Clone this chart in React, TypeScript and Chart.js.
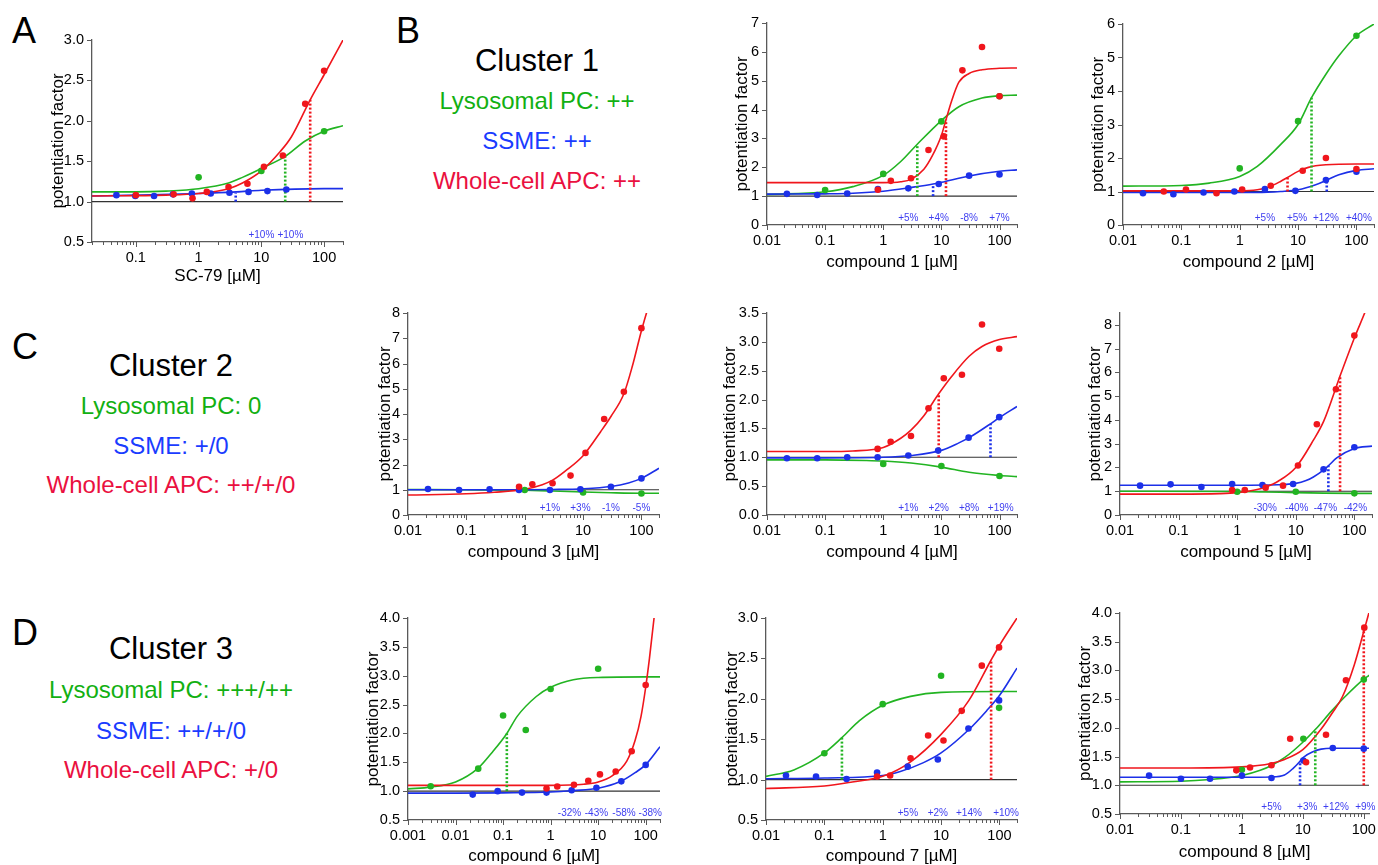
import React, { useEffect, useRef } from 'react';
import { Chart, registerables } from 'chart.js';
Chart.register(...registerables);

type Pt = [number, number];

const GREEN = '#22b422';
const BLUE = '#1c30e8';
const RED = '#f0161c';
const PCT = '#3d3df0';
const AXIS = '#5a5a5a';
const LABEL = '#000000';
const FONT = "'Liberation Sans', Arial, Helvetica, sans-serif";

// ---------- Panel A : SC-79 ----------
const A_gPts: Pt[] = [[1, 1.30], [10, 1.38], [100, 1.87]];
const A_bPts: Pt[] = [[0.049, 1.08], [0.098, 1.07], [0.195, 1.07], [0.39, 1.09], [0.78, 1.10], [1.56, 1.10], [3.1, 1.11], [6.25, 1.12], [12.5, 1.13], [25, 1.15]];
const A_rPts: Pt[] = [[0.1, 1.08], [0.4, 1.09], [0.8, 1.04], [1.35, 1.12], [3, 1.18], [6, 1.22], [11, 1.43], [22, 1.57], [50, 2.21], [100, 2.62]];
const A_gFit: Pt[] = [[0.02, 1.12], [0.1, 1.12], [0.3, 1.13], [1, 1.16], [3, 1.23], [5, 1.30], [10, 1.41], [24, 1.56], [50, 1.75], [100, 1.87], [200, 1.94]];
const A_bFit: Pt[] = [[0.02, 1.07], [0.1, 1.08], [1, 1.10], [4, 1.12], [10, 1.14], [100, 1.16], [200, 1.16]];
const A_rFit: Pt[] = [[0.02, 1.07], [0.3, 1.08], [1, 1.10], [3, 1.16], [5, 1.23], [10, 1.38], [20, 1.62], [30, 1.80], [60, 2.26], [100, 2.57], [200, 3.0]];
const A_ec50: (Pt | null)[] = [[24, 1.56], [3.9, 1.11], [60, 2.26]];
const A_pctX = [10, 29];
const A_pctText = ['+10%', '+10%'];

// ---------- Panel B1 : compound 1 ----------
const B1_gPts: Pt[] = [[0.1, 1.21], [1, 1.77], [10, 3.59], [100, 4.46]];
const B1_bPts: Pt[] = [[0.022, 1.08], [0.073, 1.04], [0.24, 1.09], [0.81, 1.25], [2.7, 1.27], [9, 1.42], [30, 1.71], [100, 1.75]];
const B1_rPts: Pt[] = [[0.81, 1.22], [1.35, 1.53], [3, 1.62], [6, 2.6], [11, 3.07], [23, 5.36], [50, 6.17], [100, 4.46]];
const B1_gFit: Pt[] = [[0.01, 1.06], [0.1, 1.15], [0.3, 1.33], [1, 1.72], [2, 2.2], [3.85, 2.8], [10, 3.62], [20, 4.1], [50, 4.4], [100, 4.48], [200, 4.5]];
const B1_bFit: Pt[] = [[0.01, 1.07], [0.1, 1.08], [0.3, 1.1], [1, 1.17], [3, 1.3], [7.2, 1.42], [10, 1.48], [30, 1.7], [100, 1.86], [200, 1.91]];
const B1_rFit: Pt[] = [[0.01, 1.47], [1, 1.47], [2, 1.5], [3, 1.58], [5, 1.93], [7, 2.4], [10, 3.1], [12, 3.65], [15, 4.3], [20, 4.95], [30, 5.25], [50, 5.38], [100, 5.43], [200, 5.44]];
const B1_ec50: (Pt | null)[] = [[3.85, 2.8], [7.2, 1.4], [12, 3.65]];
const B1_pctX = [2.7, 9, 30, 100];
const B1_pctText = ['+5%', '+4%', '-8%', '+7%'];

// ---------- Panel B2 : compound 2 ----------
const B2_gPts: Pt[] = [[1, 1.69], [10, 3.10], [100, 5.65]];
const B2_bPts: Pt[] = [[0.022, 0.95], [0.073, 0.92], [0.24, 0.97], [0.81, 1.0], [2.7, 1.07], [9, 1.02], [30, 1.34], [100, 1.59]];
const B2_rPts: Pt[] = [[0.05, 1.0], [0.12, 1.06], [0.4, 0.95], [1.1, 1.06], [3.4, 1.17], [12, 1.62], [30, 2.0], [100, 1.67]];
const B2_gFit: Pt[] = [[0.01, 1.16], [0.1, 1.18], [0.3, 1.25], [1, 1.45], [2, 1.75], [5, 2.4], [10, 3.0], [17, 3.8], [30, 4.5], [50, 5.05], [100, 5.65], [200, 6.0]];
const B2_bFit: Pt[] = [[0.01, 0.97], [1, 0.97], [3, 0.98], [5, 1.0], [10, 1.05], [20, 1.2], [31, 1.34], [50, 1.5], [100, 1.63], [200, 1.68]];
const B2_rFit: Pt[] = [[0.01, 1.02], [1, 1.02], [2, 1.05], [3, 1.12], [5, 1.3], [6.6, 1.42], [10, 1.6], [15, 1.72], [20, 1.77], [30, 1.8], [100, 1.82], [200, 1.82]];
const B2_ec50: (Pt | null)[] = [[17, 3.8], [31, 1.34], [6.6, 1.42]];
const B2_pctX = [2.7, 9.6, 30, 110];
const B2_pctText = ['+5%', '+5%', '+12%', '+40%'];

// ---------- Panel C3 : compound 3 ----------
const C3_gPts: Pt[] = [[1, 0.99], [10, 0.89], [100, 0.85]];
const C3_bPts: Pt[] = [[0.022, 1.03], [0.075, 0.99], [0.25, 1.02], [0.8, 0.99], [2.7, 0.99], [9, 1.02], [30, 1.12], [100, 1.45]];
const C3_rPts: Pt[] = [[0.8, 1.12], [1.35, 1.22], [3.0, 1.26], [6.1, 1.56], [11, 2.46], [23, 3.8], [50, 4.88], [100, 7.4]];
const C3_gFit: Pt[] = [[0.01, 1.01], [0.1, 1.0], [1, 0.98], [3, 0.95], [10, 0.91], [30, 0.88], [100, 0.86], [200, 0.86]];
const C3_bFit: Pt[] = [[0.01, 1.0], [1, 1.0], [3, 1.01], [10, 1.04], [30, 1.13], [60, 1.27], [100, 1.45], [200, 1.85]];
const C3_rFit: Pt[] = [[0.01, 0.79], [0.1, 0.84], [0.3, 0.9], [1, 1.02], [2, 1.2], [3, 1.38], [5, 1.75], [10, 2.35], [20, 3.3], [30, 3.9], [50, 4.8], [70, 5.9], [100, 7.3], [150, 8.7], [200, 9.7]];
const C3_ec50: (Pt | null)[] = [null, null, null];
const C3_pctX = [2.7, 9, 30, 100];
const C3_pctText = ['+1%', '+3%', '-1%', '-5%'];

// ---------- Panel C4 : compound 4 ----------
const C4_gPts: Pt[] = [[1, 0.885], [10, 0.85], [100, 0.677]];
const C4_bPts: Pt[] = [[0.022, 0.983], [0.073, 0.983], [0.24, 1.0], [0.8, 1.0], [2.7, 1.03], [8.8, 1.116], [29.4, 1.34], [99, 1.695]];
const C4_rPts: Pt[] = [[0.8, 1.145], [1.34, 1.27], [3, 1.37], [6, 1.85], [11, 2.37], [22.6, 2.43], [50, 3.3], [99, 2.88]];
const C4_gFit: Pt[] = [[0.01, 0.955], [0.1, 0.955], [0.5, 0.945], [1, 0.935], [3, 0.9], [10, 0.83], [30, 0.74], [100, 0.685], [200, 0.665]];
const C4_bFit: Pt[] = [[0.01, 0.99], [0.1, 0.99], [1, 1.0], [3, 1.03], [10, 1.12], [20, 1.25], [30, 1.34], [70, 1.58], [100, 1.69], [200, 1.88]];
const C4_rFit: Pt[] = [[0.01, 1.1], [0.1, 1.1], [0.3, 1.11], [1, 1.17], [2, 1.33], [3, 1.47], [5, 1.72], [9, 2.1], [15, 2.4], [30, 2.75], [50, 2.92], [100, 3.04], [200, 3.09]];
const C4_ec50: (Pt | null)[] = [null, [70, 1.58], [9, 2.1]];
const C4_pctX = [2.7, 9, 30, 105];
const C4_pctText = ['+1%', '+2%', '+8%', '+19%'];

// ---------- Panel C5 : compound 5 ----------
const C5_gPts: Pt[] = [[1, 0.98], [10, 0.98], [100, 0.91]];
const C5_bPts: Pt[] = [[0.022, 1.235], [0.073, 1.29], [0.245, 1.18], [0.82, 1.305], [2.7, 1.26], [9, 1.305], [29.8, 1.92], [100, 2.85]];
const C5_rPts: Pt[] = [[0.82, 1.05], [1.35, 1.05], [3.06, 1.15], [6.06, 1.235], [10.9, 2.08], [22.9, 3.82], [48.5, 5.29], [100, 7.55]];
const C5_gFit: Pt[] = [[0.01, 1.0], [1, 0.99], [3, 0.97], [10, 0.94], [30, 0.92], [100, 0.91], [200, 0.91]];
const C5_bFit: Pt[] = [[0.01, 1.25], [1, 1.25], [5, 1.27], [10, 1.33], [15, 1.45], [20, 1.6], [30, 1.9], [36, 2.07], [50, 2.4], [100, 2.8], [200, 2.9]];
const C5_rFit: Pt[] = [[0.01, 0.88], [0.1, 0.88], [0.5, 0.9], [1, 0.94], [2, 1.05], [3, 1.17], [5, 1.42], [10, 2.0], [20, 3.15], [30, 3.95], [56, 5.8], [100, 7.45], [150, 8.5], [200, 9.3]];
const C5_ec50: (Pt | null)[] = [null, [36, 2.07], [57, 5.8]];
const C5_pctX = [3, 10.4, 32, 104];
const C5_pctText = ['-30%', '-40%', '-47%', '-42%'];

// ---------- Panel D6 : compound 6 ----------
const D6_gPts: Pt[] = [[0.003, 1.085], [0.03, 1.39], [0.1, 2.31], [0.3, 2.06], [1, 2.77], [10, 3.12]];
const D6_bPts: Pt[] = [[0.023, 0.94], [0.077, 1.0], [0.25, 0.975], [0.82, 0.975], [2.77, 1.016], [9.2, 1.06], [30.7, 1.17], [100, 1.455]];
const D6_rPts: Pt[] = [[0.82, 1.045], [1.38, 1.08], [3.1, 1.11], [6.2, 1.18], [10.9, 1.29], [23.4, 1.34], [50.7, 1.69], [100, 2.84]];
const D6_gFit: Pt[] = [[0.001, 1.04], [0.003, 1.07], [0.01, 1.16], [0.03, 1.4], [0.06, 1.68], [0.12, 2.0], [0.2, 2.3], [0.5, 2.64], [1, 2.8], [3, 2.93], [10, 2.97], [100, 2.98], [200, 2.98]];
const D6_bFit: Pt[] = [[0.001, 0.965], [0.01, 0.965], [0.1, 0.97], [1, 0.985], [3, 1.01], [10, 1.05], [30, 1.17], [60, 1.32], [100, 1.46], [200, 1.77]];
const D6_rFit: Pt[] = [[0.001, 1.1], [1, 1.1], [5, 1.12], [10, 1.16], [20, 1.27], [40, 1.52], [60, 1.88], [80, 2.3], [100, 2.8], [120, 3.3], [150, 4.0], [200, 5.0]];
const D6_ec50: (Pt | null)[] = [[0.12, 2.0], null, null];
const D6_pctX = [2.5, 9.2, 35, 125];
const D6_pctText = ['-32%', '-43%', '-58%', '-38%'];

// ---------- Panel D7 : compound 7 ----------
const D7_gPts: Pt[] = [[0.1, 1.327], [1, 1.934], [10, 2.285], [98.6, 1.888]];
const D7_bPts: Pt[] = [[0.022, 1.05], [0.072, 1.037], [0.24, 1.008], [0.8, 1.087], [2.68, 1.16], [8.8, 1.248], [29.4, 1.632], [98.6, 1.98]];
const D7_rPts: Pt[] = [[0.8, 1.037], [1.34, 1.05], [3, 1.264], [6, 1.545], [11, 1.483], [22.6, 1.851], [49.9, 2.41], [98.6, 2.636]];
const D7_gFit: Pt[] = [[0.01, 1.04], [0.03, 1.12], [0.1, 1.33], [0.2, 1.52], [0.4, 1.73], [1, 1.92], [3, 2.03], [10, 2.08], [100, 2.09], [200, 2.09]];
const D7_bFit: Pt[] = [[0.01, 1.01], [0.1, 1.02], [1, 1.05], [2, 1.1], [5, 1.21], [10, 1.33], [30, 1.62], [60, 1.85], [100, 2.04], [200, 2.38]];
const D7_rFit: Pt[] = [[0.01, 0.89], [0.1, 0.92], [0.3, 0.97], [1, 1.04], [3, 1.22], [10, 1.56], [30, 1.98], [72, 2.48], [100, 2.66], [200, 3.0]];
const D7_ec50: (Pt | null)[] = [[0.2, 1.53], null, [72, 2.48]];
const D7_pctX = [2.7, 8.8, 30, 130];
const D7_pctText = ['+5%', '+2%', '+14%', '+10%'];

// ---------- Panel D8 : compound 8 ----------
const D8_gPts: Pt[] = [[1, 1.27], [10.2, 1.81], [100, 2.84]];
const D8_bPts: Pt[] = [[0.03, 1.168], [0.1, 1.115], [0.3, 1.115], [1, 1.168], [3.06, 1.127], [10.2, 1.43], [31, 1.65], [100, 1.638]];
const D8_rPts: Pt[] = [[0.81, 1.26], [1.36, 1.31], [3.06, 1.35], [6.2, 1.81], [11.3, 1.40], [24, 1.88], [51, 2.83], [102, 3.745]];
const D8_gFit: Pt[] = [[0.01, 1.06], [0.1, 1.07], [0.3, 1.1], [1, 1.17], [2, 1.26], [3, 1.34], [5, 1.48], [10, 1.75], [16, 1.97], [30, 2.3], [50, 2.55], [100, 2.85], [125, 2.92]];
const D8_bFit: Pt[] = [[0.01, 1.14], [1, 1.14], [3, 1.145], [5, 1.18], [7, 1.3], [9, 1.42], [10, 1.48], [15, 1.59], [20, 1.63], [30, 1.645], [100, 1.645], [125, 1.645]];
const D8_rFit: Pt[] = [[0.01, 1.3], [0.1, 1.3], [1, 1.32], [3, 1.38], [5, 1.45], [10, 1.62], [20, 1.98], [30, 2.25], [45, 2.55], [70, 3.1], [100, 3.68], [125, 4.05]];
const D8_ec50: (Pt | null)[] = [[16, 1.97], [9, 1.42], [100, 3.7]];
const D8_pctX = [3.06, 11.8, 35, 106];
const D8_pctText = ['+5%', '+3%', '+12%', '+9%'];

// ---------- Cluster descriptions ----------
const CLUSTER_TITLES = ['Cluster 1', 'Cluster 2', 'Cluster 3'];
const LYSO_TEXT = ['Lysosomal PC: ++', 'Lysosomal PC: 0', 'Lysosomal PC: +++/++'];
const SSME_TEXT = ['SSME: ++', 'SSME: +/0', 'SSME: ++/+/0'];
const APC_TEXT = ['Whole-cell APC: ++', 'Whole-cell APC: ++/+/0', 'Whole-cell APC: +/0'];
const PANEL_LETTERS = ['A', 'B', 'C', 'D'];

interface PanelCfg {
  xTitle: string; xMin: number; xMax: number;
  yMin: number; yMax: number; yStep: number; yDec: number;
  box: [number, number, number, number]; xOff: number; yOff: number;
  gPts: Pt[]; bPts: Pt[]; rPts: Pt[];
  gFit: Pt[]; bFit: Pt[]; rFit: Pt[];
  ec50: (Pt | null)[]; pctX: number[]; pctText: string[];
}

const PANELS: PanelCfg[] = [
  { xTitle: 'SC-79 [µM]', xMin: 0.02, xMax: 200, yMin: 0.5, yMax: 3, yStep: 0.5, yDec: 1, box: [92, 40, 343, 242], xOff: 35, yOff: 34,
    gPts: A_gPts, bPts: A_bPts, rPts: A_rPts, gFit: A_gFit, bFit: A_bFit, rFit: A_rFit, ec50: A_ec50, pctX: A_pctX, pctText: A_pctText },
  { xTitle: 'compound 1 [µM]', xMin: 0.01, xMax: 200, yMin: 0, yMax: 7, yStep: 1, yDec: 0, box: [767, 23, 1017, 225], xOff: 38, yOff: 25,
    gPts: B1_gPts, bPts: B1_bPts, rPts: B1_rPts, gFit: B1_gFit, bFit: B1_bFit, rFit: B1_rFit, ec50: B1_ec50, pctX: B1_pctX, pctText: B1_pctText },
  { xTitle: 'compound 2 [µM]', xMin: 0.01, xMax: 200, yMin: 0, yMax: 6, yStep: 1, yDec: 0, box: [1123, 24, 1374, 225], xOff: 38, yOff: 25,
    gPts: B2_gPts, bPts: B2_bPts, rPts: B2_rPts, gFit: B2_gFit, bFit: B2_bFit, rFit: B2_rFit, ec50: B2_ec50, pctX: B2_pctX, pctText: B2_pctText },
  { xTitle: 'compound 3 [µM]', xMin: 0.01, xMax: 200, yMin: 0, yMax: 8, yStep: 1, yDec: 0, box: [408, 313, 659, 515], xOff: 38, yOff: 23,
    gPts: C3_gPts, bPts: C3_bPts, rPts: C3_rPts, gFit: C3_gFit, bFit: C3_bFit, rFit: C3_rFit, ec50: C3_ec50, pctX: C3_pctX, pctText: C3_pctText },
  { xTitle: 'compound 4 [µM]', xMin: 0.01, xMax: 200, yMin: 0, yMax: 3.5, yStep: 0.5, yDec: 1, box: [767, 313, 1017, 515], xOff: 38, yOff: 37,
    gPts: C4_gPts, bPts: C4_bPts, rPts: C4_rPts, gFit: C4_gFit, bFit: C4_bFit, rFit: C4_rFit, ec50: C4_ec50, pctX: C4_pctX, pctText: C4_pctText },
  { xTitle: 'compound 5 [µM]', xMin: 0.01, xMax: 200, yMin: 0, yMax: 8.5, yStep: 1, yDec: 0, box: [1120, 313, 1372, 515], xOff: 38, yOff: 25,
    gPts: C5_gPts, bPts: C5_bPts, rPts: C5_rPts, gFit: C5_gFit, bFit: C5_bFit, rFit: C5_rFit, ec50: C5_ec50, pctX: C5_pctX, pctText: C5_pctText },
  { xTitle: 'compound 6 [µM]', xMin: 0.001, xMax: 200, yMin: 0.5, yMax: 4, yStep: 0.5, yDec: 1, box: [408, 618, 660, 820], xOff: 37, yOff: 35,
    gPts: D6_gPts, bPts: D6_bPts, rPts: D6_rPts, gFit: D6_gFit, bFit: D6_bFit, rFit: D6_rFit, ec50: D6_ec50, pctX: D6_pctX, pctText: D6_pctText },
  { xTitle: 'compound 7 [µM]', xMin: 0.01, xMax: 200, yMin: 0.5, yMax: 3, yStep: 0.5, yDec: 1, box: [766, 618, 1017, 820], xOff: 37, yOff: 34,
    gPts: D7_gPts, bPts: D7_bPts, rPts: D7_rPts, gFit: D7_gFit, bFit: D7_bFit, rFit: D7_rFit, ec50: D7_ec50, pctX: D7_pctX, pctText: D7_pctText },
  { xTitle: 'compound 8 [µM]', xMin: 0.01, xMax: 122, yMin: 0.5, yMax: 4, yStep: 0.5, yDec: 1, box: [1120, 613, 1372, 814], xOff: 39, yOff: 35,
    gPts: D8_gPts, bPts: D8_bPts, rPts: D8_rPts, gFit: D8_gFit, bFit: D8_bFit, rFit: D8_rFit, ec50: D8_ec50, pctX: D8_pctX, pctText: D8_pctText },
];

function isPow10(v: number) {
  const l = Math.log10(v);
  return Math.abs(l - Math.round(l)) < 1e-6;
}
function logTicks(min: number, max: number) {
  const out: number[] = [];
  for (let e = Math.floor(Math.log10(min)); e <= Math.ceil(Math.log10(max)); e++) {
    for (let m = 1; m < 10; m++) {
      const v = Number((m * Math.pow(10, e)).toPrecision(6));
      if (v >= min * 0.9999 && v <= max * 1.0001) out.push(v);
    }
  }
  return out;
}
function fmtLog(v: number) {
  if (!isPow10(v)) return '';
  const e = Math.round(Math.log10(v));
  return e < 0 ? v.toFixed(-e) : String(Math.round(v));
}

const TITLE_SIZE = 17;
const TICK_SIZE = 14.5;
const LH = TITLE_SIZE * 1.2;

function Panel({ p }: { p: PanelCfg }) {
  const ref = useRef<HTMLCanvasElement>(null);
  const [l, t, r, b] = p.box;
  const W = Math.round(p.yOff + LH / 2);
  const H = Math.round(p.xOff + LH / 2);
  const padTop = 12;
  const padRight = 6;
  const cw = Math.round(r - l + W + padRight);
  const chh = Math.round(b - t + padTop + H);

  useEffect(() => {
    const toXY = (arr: Pt[]) => arr.map(([x, y]) => ({ x, y }));
    const pts = (arr: Pt[], c: string, order: number) => ({
      type: 'scatter', data: toXY(arr), backgroundColor: c, borderColor: c,
      pointRadius: 3.3, pointBorderWidth: 0, showLine: false, order,
    });
    const fit = (arr: Pt[], c: string, order: number) => ({
      type: 'line', data: toXY(arr), borderColor: c, borderWidth: 1.6, pointRadius: 0,
      cubicInterpolationMode: 'monotone', fill: false, order,
    });
    const colors = [GREEN, BLUE, RED];
    const ds: any[] = [
      pts(p.rPts, RED, 0), pts(p.bPts, BLUE, 0.1), pts(p.gPts, GREEN, 0.2),
    ];
    p.ec50.forEach((e, i) => {
      if (!e) return;
      ds.push({
        type: 'line', data: [{ x: e[0], y: 1 }, { x: e[0], y: e[1] }], borderColor: colors[i],
        borderWidth: 2.6, borderDash: [2, 2], pointRadius: 0, fill: false, order: 1,
      });
    });
    ds.push(fit(p.rFit, RED, 2), fit(p.bFit, BLUE, 2.1), fit(p.gFit, GREEN, 2.2));
    ds.push({
      type: 'line', data: [{ x: p.xMin, y: 1 }, { x: p.xMax, y: 1 }], borderColor: '#333333',
      borderWidth: 1.1, pointRadius: 0, fill: false, order: 3,
    });

    const axTicks = {
      id: 'axTicks',
      afterDraw(chart: any) {
        const { ctx, scales, chartArea: a } = chart;
        const xs = scales.x, ys = scales.y;
        ctx.save();
        ctx.strokeStyle = AXIS;
        ctx.lineWidth = 1;
        ctx.beginPath();
        for (const tk of xs.ticks) {
          const px = Math.round(xs.getPixelForValue(tk.value)) + 0.5;
          const len = isPow10(tk.value) ? 5 : 3;
          ctx.moveTo(px, a.bottom);
          ctx.lineTo(px, a.bottom + len);
        }
        for (const tk of ys.ticks) {
          const py = Math.round(ys.getPixelForValue(tk.value)) + 0.5;
          ctx.moveTo(a.left, py);
          ctx.lineTo(a.left - 5, py);
        }
        ctx.stroke();
        ctx.restore();
      },
    };
    const pctLabels = {
      id: 'pctLabels',
      afterDatasetsDraw(chart: any) {
        const { ctx, scales, chartArea: a } = chart;
        ctx.save();
        ctx.fillStyle = PCT;
        ctx.font = `10px ${FONT}`;
        ctx.textAlign = 'center';
        ctx.textBaseline = 'middle';
        p.pctX.forEach((x, i) => {
          ctx.fillText(p.pctText[i], scales.x.getPixelForValue(x), a.bottom - 7);
        });
        ctx.restore();
      },
    };

    const yTickVals: number[] = [];
    for (let v = p.yMin; v <= p.yMax + 1e-9; v += p.yStep) yTickVals.push(Number(v.toFixed(4)));

    const chart = new Chart(ref.current as HTMLCanvasElement, {
      type: 'scatter',
      data: { datasets: ds },
      options: {
        responsive: false,
        animation: false,
        devicePixelRatio: 1,
        events: [],
        layout: { padding: { top: padTop, right: padRight, left: 0, bottom: 0 } },
        plugins: { legend: { display: false }, tooltip: { enabled: false } },
        scales: {
          x: {
            type: 'logarithmic', min: p.xMin, max: p.xMax, position: 'bottom',
            afterBuildTicks: (ax: any) => { ax.ticks = logTicks(p.xMin, p.xMax).map((v) => ({ value: v })); },
            afterFit: (ax: any) => { ax.height = H; },
            ticks: {
              autoSkip: false, maxRotation: 0, minRotation: 0, padding: 2, color: LABEL,
              font: { family: FONT, size: TICK_SIZE }, callback: (v: any) => fmtLog(Number(v)),
            },
            grid: { display: true, drawOnChartArea: false, drawTicks: true, tickLength: 5, color: 'rgba(0,0,0,0)' },
            border: { display: true, color: AXIS, width: 1.3 },
            title: { display: true, text: p.xTitle, color: LABEL, font: { family: FONT, size: TITLE_SIZE }, padding: 0 },
          },
          y: {
            type: 'linear', min: p.yMin, max: p.yMax, position: 'left',
            afterBuildTicks: (ax: any) => { ax.ticks = yTickVals.map((v) => ({ value: v })); },
            afterFit: (ax: any) => { ax.width = W; },
            ticks: {
              autoSkip: false, padding: 3, color: LABEL, font: { family: FONT, size: TICK_SIZE },
              callback: (v: any) => Number(v).toFixed(p.yDec),
            },
            grid: { display: true, drawOnChartArea: false, drawTicks: true, tickLength: 5, color: 'rgba(0,0,0,0)' },
            border: { display: true, color: AXIS, width: 1.3 },
            title: { display: true, text: 'potentiation factor', color: LABEL, font: { family: FONT, size: TITLE_SIZE }, padding: 0 },
          },
        },
      } as any,
      plugins: [axTicks, pctLabels],
    });
    return () => chart.destroy();
  }, []);

  return (
    <canvas
      ref={ref}
      width={cw}
      height={chh}
      style={{ position: 'absolute', left: l - W, top: t - padTop, width: cw, height: chh }}
    />
  );
}

function Txt({ x, y, size, color, children }: { x: number; y: number; size: number; color: string; children: any }) {
  return (
    <div style={{
      position: 'absolute', left: x, top: y, transform: 'translate(-50%, -50%)', fontSize: size,
      lineHeight: 1, color, whiteSpace: 'nowrap', fontFamily: FONT,
    }}>{children}</div>
  );
}

function Letter({ x, baseline, text }: { x: number; baseline: number; text: string }) {
  const size = 36;
  return (
    <div style={{
      position: 'absolute', left: x, top: baseline - size * 0.8465, fontSize: size, lineHeight: 1,
      color: '#000', fontFamily: FONT, whiteSpace: 'nowrap',
    }}>{text}</div>
  );
}

const CLUSTER_POS = [
  { cx: 537, ys: [60, 101, 141, 181] },
  { cx: 171, ys: [365, 406, 446, 485] },
  { cx: 171, ys: [648, 690, 731, 770] },
];
const LETTER_POS = [[12, 43], [396, 43], [12, 359], [12, 645]];

export default function App() {
  useEffect(() => {
    document.body.style.margin = '0';
  }, []);
  return (
    <div style={{ position: 'absolute', left: 0, top: 0, width: 1378, height: 865, background: '#ffffff', overflow: 'hidden' }}>
      {PANEL_LETTERS.map((L, i) => (
        <Letter key={L} x={LETTER_POS[i][0]} baseline={LETTER_POS[i][1]} text={L} />
      ))}
      {CLUSTER_POS.map((c, i) => (
        <React.Fragment key={i}>
          <Txt x={c.cx} y={c.ys[0]} size={31} color="#000000">{CLUSTER_TITLES[i]}</Txt>
          <Txt x={c.cx} y={c.ys[1]} size={24} color="#12b012">{LYSO_TEXT[i]}</Txt>
          <Txt x={c.cx} y={c.ys[2]} size={24} color="#1a3cff">{SSME_TEXT[i]}</Txt>
          <Txt x={c.cx} y={c.ys[3]} size={24} color="#ea1040">{APC_TEXT[i]}</Txt>
        </React.Fragment>
      ))}
      {PANELS.map((p, i) => <Panel key={i} p={p} />)}
    </div>
  );
}
